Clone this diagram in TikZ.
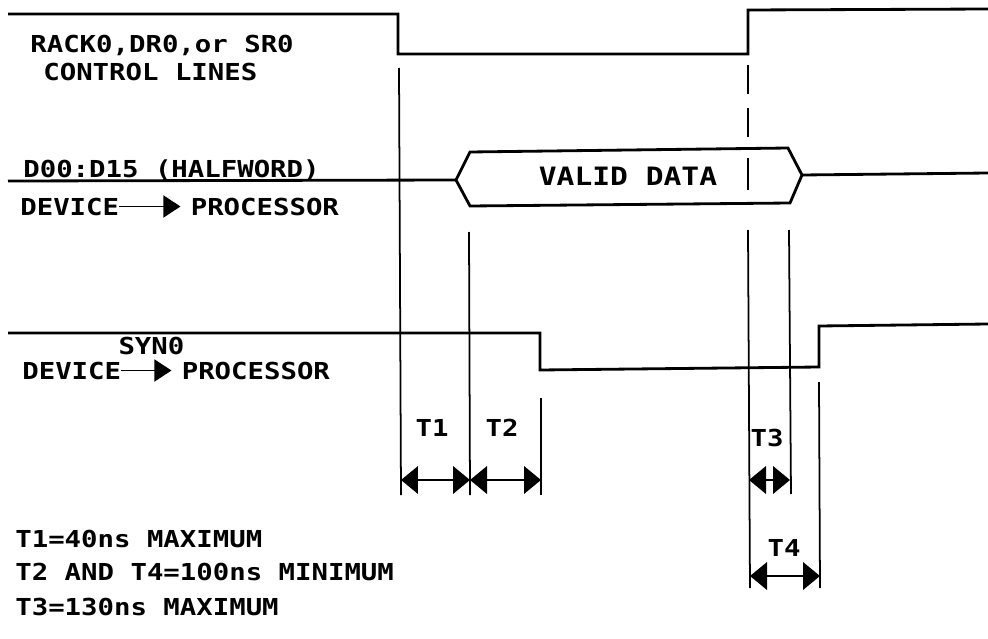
\documentclass[tikz,border=0pt]{standalone}
\usepackage{fontspec}
\newfontfamily\plotfont[FakeStretch=1.17]{DejaVu Sans Mono}
\usetikzlibrary{arrows.meta,positioning}

\begin{document}
\begin{tikzpicture}
[x=0.02cm, y=-0.02cm,
signal/.style={line width=1.6pt, line join=miter},
guide/.style={line width=1pt},
sigtext/.style={font=\plotfont\bfseries\fontsize{13.3}{16}\selectfont, inner sep=0pt, anchor=base west},
tlabel/.style={font=\plotfont\bfseries\fontsize{13.3}{16}\selectfont, inner sep=0pt},
dirarrow/.style={line width=1pt, shorten >=0.2cm, arrows={-Triangle[length=3.4mm,width=4.4mm]}},
dimarrow/.style={line width=1.2pt, arrows={Triangle[length=3.4mm,width=5.5mm]-Triangle[length=3.4mm,width=5.5mm]}},
]
\useasboundingbox (0,0) rectangle (988,639);

% waveforms
\draw[signal] (8,14) -- (398,14) -- (398,54) -- (748,54) -- (748,10) -- (988,9);
\draw[signal] (8,181) -- (456,180);
\draw[signal] (456,180) -- (470,152) -- (788,148) -- (802,175) -- (790,203) -- (470,206) -- cycle;
\draw[signal] (802,175) -- (988,173);
\draw[signal] (8,333) -- (540,333) -- (540,370) -- (819,367) -- (819,326) -- (988,324);

\node[tlabel, font=\plotfont\bfseries\fontsize{14.4}{16}\selectfont] (valid) at (628,176) {VALID DATA};

% signal names
\node[sigtext] (rack) at (30,52) {RACK0,DR0,or SR0};
\node[sigtext] (ctl) at (43,80) {CONTROL LINES};
\node[sigtext] (bus) at (23,177) {D00:D15 (HALFWORD)};
\node[sigtext] (dev1) at (20,215) {DEVICE};
\node[sigtext] (proc1) [right=1.42cm of dev1] {PROCESSOR};
\draw[dirarrow] (dev1) -- (proc1);
\node[sigtext] (dev2) at (22,379) {DEVICE};
\node[sigtext] (proc2) [right=1.2cm of dev2] {PROCESSOR};
\draw[dirarrow] (dev2) -- (proc2) node[tlabel, midway, above=0.3cm] (syn) {SYN0};

% timing guides
\draw[guide] (399,68) -- (401,495);
\foreach \a/\b in {65/94,108/137,158/190}
  \draw[guide] (748,\a) -- (748,\b);
\draw[guide] (748,230) -- (750,588);
\draw[guide] (469,232) -- (470,495);
\draw[guide] (541,398) -- (541,495);
\draw[guide] (789,230) -- (791,494);
\draw[guide] (819,382) -- (820,588);

\coordinate (t1a) at (401,480);
\coordinate (t1b) at (470,480);
\coordinate (t2b) at (541,480);
\coordinate (t3a) at (749,480);
\coordinate (t3b) at (790,480);
\coordinate (t4a) at (750,576);
\coordinate (t4b) at (820,576);

\draw[dimarrow] (t1a) -- (t1b);
\draw[dimarrow] (t1b) -- (t2b);
\draw[dimarrow] (t3a) -- (t3b);
\draw[dimarrow] (t4a) -- (t4b);

\node[tlabel] (T1) at (432,428) {T1};
\node[tlabel] (T2) at (502,428) {T2};
\node[tlabel] (T3) at (767,438) {T3};
\node[tlabel] (T4) at (784,548) {T4};

% limits
\node[sigtext] (lim1) at (15,547) {T1=40ns MAXIMUM};
\node[sigtext] (lim2) at (15,580) {T2 AND T4=100ns MINIMUM};
\node[sigtext] (lim3) at (15,615) {T3=130ns MAXIMUM};
\end{tikzpicture}
\end{document}
